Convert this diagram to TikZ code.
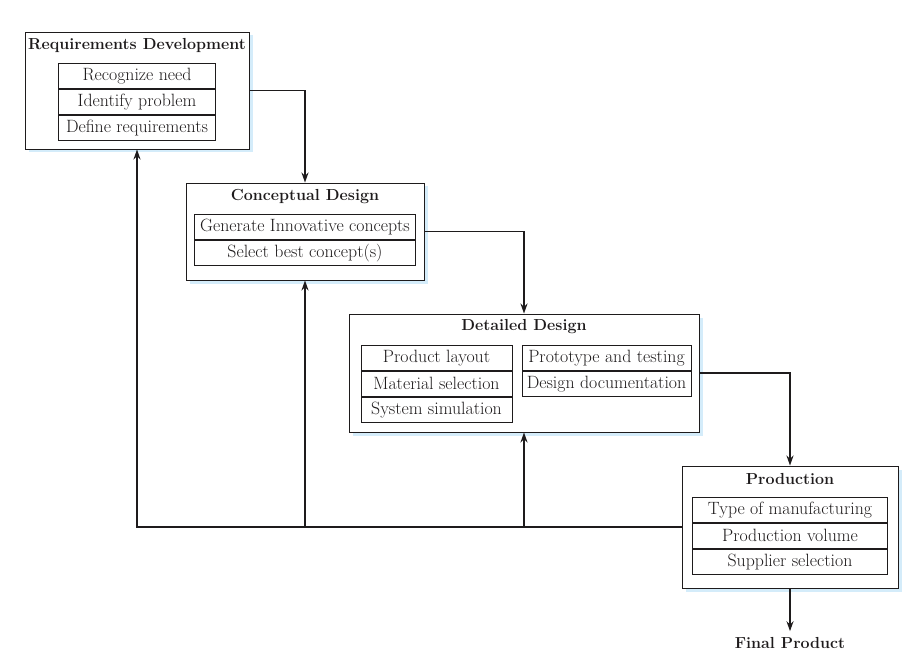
\documentclass[tikz,border=0pt]{standalone}
\usetikzlibrary{arrows.meta, positioning, shadows}
\definecolor{shadowblue}{RGB}{212,236,250}
\definecolor{ink}{RGB}{30,27,28}

\begin{document}
\begin{tikzpicture}[
      x=1pt, y=-1pt,
      stage/.style={draw=ink, line width=0.9pt, fill=white, inner sep=0pt, general shadow={fill=shadowblue, shadow xshift=3.5pt, shadow yshift=-3.5pt}},
      ttl/.style={font=\fontsize{16}{19}\selectfont\bfseries, text=ink, inner sep=0pt},
      item/.style={draw=ink, line width=0.9pt, fill=white, minimum height=25.3pt, inner sep=0pt, font=\fontsize{17.8}{21}\selectfont, text=ink},
      arr/.style={-{Stealth[length=10pt, width=7pt]}, line width=1.7pt, draw=ink},
    ]
    \useasboundingbox (0,0) rectangle (923,663);

    \node[stage, minimum width=224pt, minimum height=117pt] (req) at (137,90.5) {};
    \node[ttl] (req_ttl) at ([yshift=-13.5pt]req.north) {Requirements Development};
    \node[item, minimum width=157pt, anchor=north] (req_1) at ([yshift=-31pt]req.north) {Recognize need};
    \node[item, minimum width=157pt, below=0pt of req_1] (req_2) {Identify problem};
    \node[item, minimum width=157pt, below=0pt of req_2] (req_3) {Define requirements};

    \node[stage, minimum width=238pt, minimum height=97pt] (conc) at (305,231.5) {};
    \node[ttl] (conc_ttl) at ([yshift=-13.5pt]conc.north) {Conceptual Design};
    \node[item, minimum width=221pt, anchor=north] (conc_1) at ([yshift=-31pt]conc.north) {Generate Innovative concepts};
    \node[item, minimum width=221pt, below=0pt of conc_1] (conc_2) {Select best concept(s)};

    \node[stage, minimum width=350pt, minimum height=118pt] (det) at (524,373) {};
    \node[ttl] (det_ttl) at ([yshift=-13.5pt]det.north) {Detailed Design};
    \node[item, minimum width=151pt, anchor=north] (det_l1) at ([xshift=-87.5pt, yshift=-31pt]det.north) {Product layout};
    \node[item, minimum width=151pt, below=0pt of det_l1] (det_l2) {Material selection};
    \node[item, minimum width=151pt, below=0pt of det_l2] (det_l3) {System simulation};
    \node[item, minimum width=169pt, anchor=north] (det_r1) at ([xshift=82.5pt, yshift=-31pt]det.north) {Prototype and testing};
    \node[item, minimum width=169pt, below=0pt of det_r1] (det_r2) {Design documentation};

    \node[stage, minimum width=216pt, minimum height=122pt] (prod) at (790,527) {};
    \node[ttl] (prod_ttl) at ([yshift=-13.5pt]prod.north) {Production};
    \node[item, minimum width=195pt, anchor=north] (prod_1) at ([yshift=-31pt]prod.north) {Type of manufacturing};
    \node[item, minimum width=195pt, below=0pt of prod_1] (prod_2) {Production volume};
    \node[item, minimum width=195pt, below=0pt of prod_2] (prod_3) {Supplier selection};

    \node[ttl] (final) at (790,643) {Final Product};

    \draw[arr] (req.east) -| (conc.north);
    \draw[arr] (conc.east) -| (det.north);
    \draw[arr] (det.east) -| (prod.north);
    \draw[arr] (prod.south) -- ([yshift=6pt]final.north);

    % feedback
    \draw[arr] (prod.west) -| (req.south);
    \draw[arr] (conc.south |- prod.west) -- (conc.south);
    \draw[arr] (det.south |- prod.west) -- (det.south);
  \end{tikzpicture}
\end{document}
